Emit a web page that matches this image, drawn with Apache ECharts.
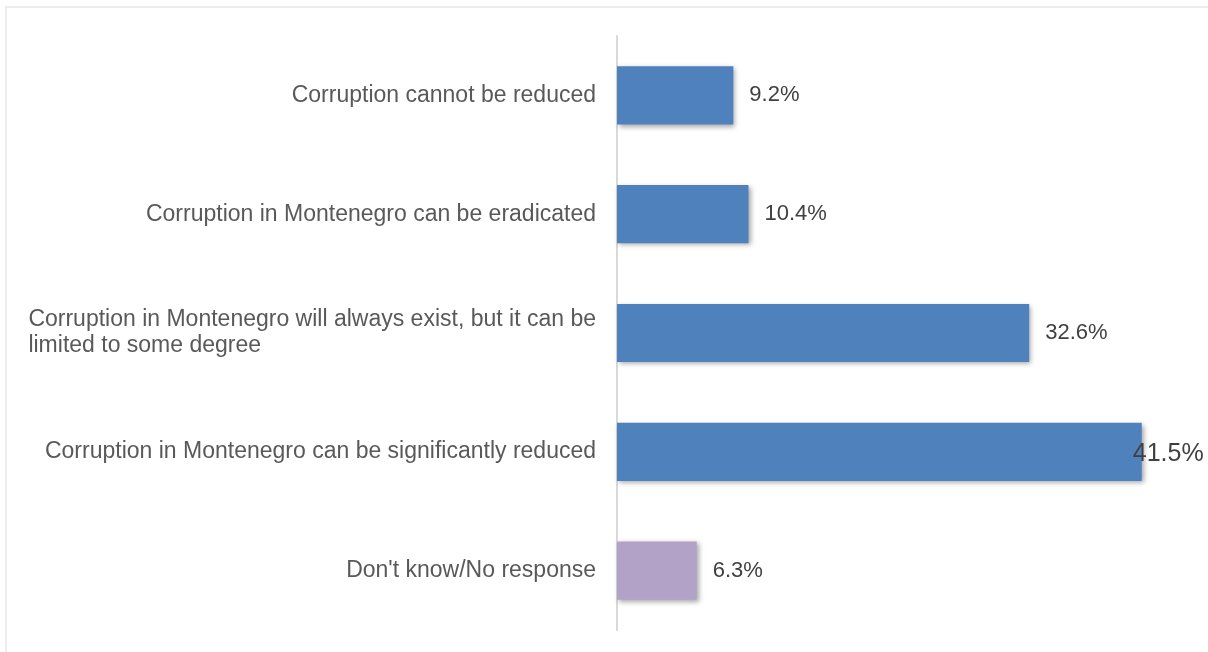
<!DOCTYPE html>
<html>
<head>
<meta charset="utf-8">
<script src="https://cdn.jsdelivr.net/npm/echarts@6/dist/echarts.min.js"></script>
<style>
html,body{margin:0;padding:0;background:#fff;}
#chart{width:1208px;height:652px;}
</style>
</head>
<body>
<div id="chart"></div>
<script>
const categories = [
  "Corruption cannot be reduced",
  "Corruption in Montenegro can be eradicated",
  "Corruption in Montenegro will always exist, but it can be\nlimited to some degree",
  "Corruption in Montenegro can be significantly reduced",
  "Don't know/No response"
];
const values = [9.2, 10.4, 32.6, 41.5, 6.3];
const barColors = ["#4F81BD", "#4F81BD", "#4F81BD", "#4F81BD", "#B3A2C7"];

const chart = echarts.init(document.getElementById('chart'));
const data = values.map((v, i) => {
  const item = { value: v, itemStyle: { color: barColors[i] } };
  if (i === 3) {
    item.label = { fontSize: 25, color: '#404040', distance: -9, offset: [0, 2] };
  }
  return item;
});

chart.setOption({
  animation: false,
  backgroundColor: '#ffffff',
  graphic: [{
    type: 'rect',
    shape: { x: 6, y: 7, width: 1400, height: 800 },
    style: { fill: 'none', stroke: '#ececec', lineWidth: 2 },
    silent: true
  }],
  grid: { left: 617, right: 22, top: 36, bottom: 22, containLabel: false },
  xAxis: {
    type: 'value', min: 0, max: 45,
    show: false
  },
  yAxis: {
    type: 'category',
    data: categories,
    inverse: true,
    axisLine: { show: true, lineStyle: { color: '#d9d9d9', width: 2 } },
    axisTick: { show: false },
    axisLabel: {
      margin: 21,
      fontFamily: 'Liberation Sans, Arial, sans-serif',
      fontSize: 23,
      color: '#595959',
      lineHeight: 26,
      formatter: function (v) {
        return v.split('\n').map(s => '{l|' + s + '}').join('\n');
      },
      rich: {
        l: { align: 'left', fontSize: 23, color: '#595959', lineHeight: 26, fontFamily: 'Liberation Sans, Arial, sans-serif' }
      }
    }
  },
  series: [{
    type: 'bar',
    data: data,
    barWidth: '49%',
    itemStyle: {
      shadowBlur: 5,
      shadowOffsetX: 2,
      shadowOffsetY: 2,
      shadowColor: 'rgba(0,0,0,0.35)'
    },
    label: {
      show: true,
      position: 'right',
      distance: 16,
      fontFamily: 'Liberation Sans, Arial, sans-serif',
      fontSize: 22,
      color: '#404040',
      formatter: p => p.value.toFixed(1) + '%'
    }
  }]
});
</script>
</body>
</html>
